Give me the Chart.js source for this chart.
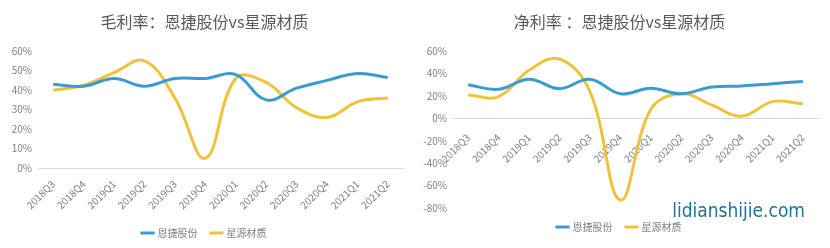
<!DOCTYPE html>
<html>
<head>
<meta charset="utf-8">
<script src="https://cdn.jsdelivr.net/npm/chart.js@4.4.1/dist/chart.umd.min.js"></script>
<style>
    html, body { margin: 0; padding: 0; background: #fff; }
    .box { position: absolute; top: 0; width: 415px; height: 248px; }
    #left { left: 0; }
    #right { left: 415px; }
</style>
</head>
<body>
<div class="box" id="left"><canvas id="gross"></canvas></div>
<div class="box" id="right"><canvas id="net"></canvas></div>
<script>
const quarters = ["2018Q3", "2018Q4", "2019Q1", "2019Q2", "2019Q3", "2019Q4", "2020Q1", "2020Q2", "2020Q3", "2020Q4", "2021Q1", "2021Q2"];
const seriesNames = ["恩捷股份", "星源材质"];

// 毛利率 (%)
const grossEnjie = [43, 42, 46, 42, 46, 46, 48, 35, 41, 45, 48.5, 46.5];
const grossXingyuan = [40, 42.5, 49, 55, 36, 5, 46, 44, 31, 26, 34, 36];

// 净利率 (%)
const netEnjie = [30, 26, 35, 26.5, 35, 22, 27, 22, 28, 29, 31, 33];
const netXingyuan = [21, 19.5, 43, 53, 24, -73, 8, 22, 12, 2, 15, 13];

const blue = "#3a9ad2";
const yellow = "#eec33b";
const gray = "#7f7f7f";
const font = "'Noto Sans CJK SC', 'Noto Sans', sans-serif";

Chart.defaults.font.family = font;
Chart.defaults.color = gray;

const makeDataset = (label, data, color) => ({
    label: label,
    data: data,
    borderColor: color,
    backgroundColor: color,
    borderWidth: 3,
    pointRadius: 0,
    tension: 0.4,
});

// 右下角水印文字
const watermark = {
    id: "watermark",
    afterDraw(chart, args, opts) {
        if (!opts.text) return;
        const ctx = chart.ctx;
        ctx.save();
        ctx.font = "19px 'Liberation Sans Narrow', 'DejaVu Sans Condensed', sans-serif";
        ctx.fillStyle = "#22719a";
        ctx.textAlign = "right";
        ctx.textBaseline = "middle";
        ctx.fillText(opts.text, opts.x, opts.y);
        ctx.restore();
    },
};

function buildChart(id, title, a, b, yMin, yMax, step, xPos, extra) {
    const ctx = document.getElementById(id).getContext("2d");
    return new Chart(ctx, {
        type: "line",
        data: {
            labels: quarters,
            datasets: [
                makeDataset(seriesNames[0], a, blue),
                makeDataset(seriesNames[1], b, yellow),
            ],
        },
        plugins: [watermark],
        options: {
            responsive: true,
            maintainAspectRatio: false,
            animation: false,
            layout: { padding: { left: 6, right: 12, top: 0, bottom: extra.bottomPad } },
            plugins: {
                title: {
                    display: true,
                    text: title,
                    color: "#595959",
                    font: { size: 16, weight: "normal" },
                    padding: { top: 12, bottom: 20 },
                },
                legend: {
                    position: "bottom",
                    labels: {
                        usePointStyle: true,
                        pointStyle: "line",
                        boxWidth: 22,
                        padding: 14,
                        font: { size: 10 },
                        color: gray,
                    },
                },
                tooltip: { enabled: false },
                watermark: extra.watermark || {},
            },
            scales: {
                x: {
                    position: xPos,
                    offset: true,
                    grid: { display: false, drawTicks: false },
                    border: { display: true, color: "#d9d9d9", width: 1 },
                    ticks: {
                        minRotation: 45,
                        maxRotation: 45,
                        autoSkip: false,
                        padding: extra.xPad,
                        font: { size: 10 },
                        color: gray,
                    },
                    afterFit: (scale) => {
                        if (extra.xHeight) scale.height = extra.xHeight;
                    },
                },
                y: {
                    min: yMin,
                    max: yMax,
                    grid: { display: false, drawTicks: false },
                    border: { display: false },
                    ticks: {
                        stepSize: step,
                        padding: 6,
                        font: { size: 10 },
                        color: gray,
                        callback: (v) => v + "%",
                    },
                    afterFit: (scale) => {
                        scale.width = 32;
                    },
                },
            },
        },
    });
}

buildChart("gross", "毛利率：恩捷股份vs星源材质", grossEnjie, grossXingyuan, 0, 60, 10, "bottom",
    { xHeight: 46, xPad: 10, bottomPad: 0 });
buildChart("net", "净利率 ：恩捷股份vs星源材质", netEnjie, netXingyuan, -80, 60, 20, { y: 0 },
    { xPad: 13, bottomPad: 6, watermark: { text: "lidianshijie.com", x: 390, y: 212 } });
</script>
</body>
</html>
